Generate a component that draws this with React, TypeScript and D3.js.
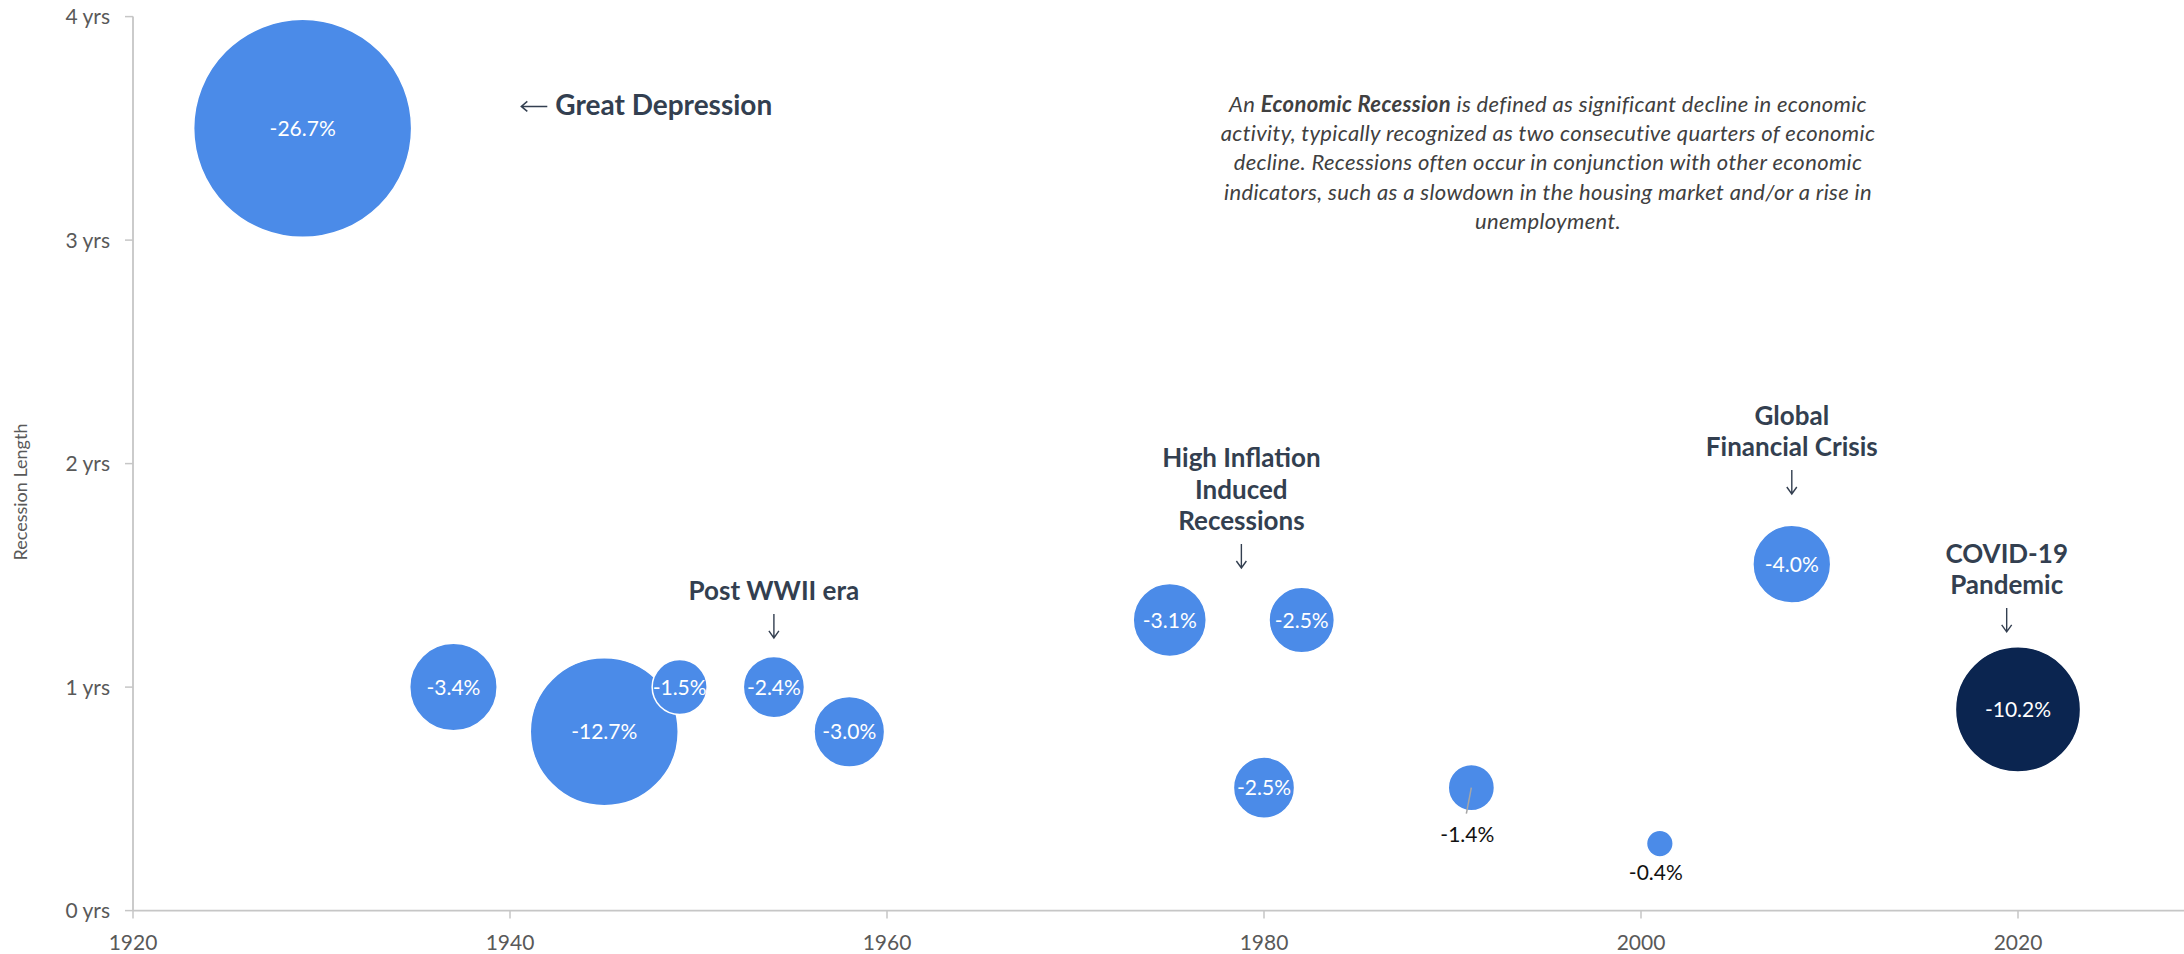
import React from "react";
import * as d3 from "d3";

// ---- data ----
const years = [1929, 1937, 1945, 1949, 1954, 1958, 1975, 1980, 1982, 1991, 2001, 2008, 2020];
const lengthsYrs = [3.5, 1.0, 0.8, 1.0, 1.0, 0.8, 1.3, 0.55, 1.3, 0.55, 0.3, 1.55, 0.9];
const gdpDecline = [-26.7, -3.4, -12.7, -1.5, -2.4, -3.0, -3.1, -2.5, -2.5, -1.4, -0.4, -4.0, -10.2];
const bubbleSizes = [26.7, 4.3, 12.3, 1.7, 2.1, 2.8, 3.0, 2.1, 2.4, 1.2, 0.4, 3.4, 8.8];
const highlighted = [false, false, false, false, false, false, false, false, false, false, false, false, true];
const labelBelow = [false, false, false, false, false, false, false, false, false, true, true, false, false];

const xTicks = [1920, 1940, 1960, 1980, 2000, 2020];
const yTicks = [0, 1, 2, 3, 4];
const yAxisTitle = "Recession Length";

const annotationLines = [
  ["Post WWII era"],
  ["High Inflation", "Induced", "Recessions"],
  ["Global", "Financial Crisis"],
  ["COVID-19", "Pandemic"],
];
const annotationYears = [1954, 1978.8, 2008, 2019.4];
const annotationTips = [1.22, 1.533, 1.864, 1.247];

const greatDepressionLabel = "Great Depression";
const greatDepressionAnchor = { year: 1940.6, value: 3.56 };

const descriptionLines = [
  ["An ", "Economic Recession", " is defined as significant decline in economic"],
  ["activity, typically recognized as two consecutive quarters of economic"],
  ["decline. Recessions often occur in conjunction with other economic"],
  ["indicators, such as a slowdown in the housing market and/or a rise in"],
  ["unemployment."],
];

const W = 2184;
const H = 954;
const BLUE = "#4b8be8";
const NAVY = "#0b2550";
const ANNO = "#333f50";
const AXIS = "#c6c6c6";
const TICKTXT = "#595959";
const FONT = "Lato, 'Open Sans', sans-serif";

export default function App() {
  const x = d3.scaleLinear().domain([1920, 2030]).range([133, 2206.5]);
  const y = d3.scaleLinear().domain([0, 4]).range([910.6, 16.6]);
  const r = d3.scaleSqrt().domain([0, 26.7]).range([0, 109]);

  const pts = years.map((yr, i) => ({
    yr,
    len: lengthsYrs[i],
    dec: gdpDecline[i],
    size: bubbleSizes[i],
    hi: highlighted[i],
    below: labelBelow[i],
  }));

  const fmt = (v: number) => `${v.toFixed(1)}%`;

  return (
    <svg
      width={W}
      height={H}
      style={{ position: "absolute", left: 0, top: 0, background: "#fff" }}
      fontFamily={FONT}
    >
      {/* axes */}
      <line x1={x(1920)} x2={W} y1={y(0)} y2={y(0)} stroke={AXIS} strokeWidth={1.8} />
      <line x1={x(1920)} x2={x(1920)} y1={y(4)} y2={y(0)} stroke={AXIS} strokeWidth={1.8} />
      {xTicks.map((t) => (
        <g key={`xt${t}`}>
          <line x1={x(t)} x2={x(t)} y1={y(0)} y2={y(0) + 8} stroke={AXIS} strokeWidth={1.5} />
          <text x={x(t)} y={950} textAnchor="middle" fontSize={21} fill={TICKTXT}>
            {t}
          </text>
        </g>
      ))}
      {yTicks.map((t) => (
        <g key={`yt${t}`}>
          <line x1={x(1920) - 8} x2={x(1920)} y1={y(t)} y2={y(t)} stroke={AXIS} strokeWidth={1.5} />
          <text x={110} y={y(t) + 7.5} textAnchor="end" fontSize={21} fill={TICKTXT}>
            {`${t} yrs`}
          </text>
        </g>
      ))}
      <text
        transform={`translate(27,${492}) rotate(-90)`}
        textAnchor="middle"
        fontSize={18}
        fill={TICKTXT}
      >
        {yAxisTitle}
      </text>

      {/* bubbles */}
      {pts.map((p) => (
        <circle
          key={`c${p.yr}`}
          cx={x(p.yr)}
          cy={y(p.len)}
          r={r(p.size)}
          fill={p.hi ? NAVY : BLUE}
          stroke="#ffffff"
          strokeWidth={1.5}
        />
      ))}
      {pts.map((p) =>
        p.below ? (
          <g key={`l${p.yr}`}>
            {p.size > 1 && (
              <line
                x1={x(p.yr)}
                y1={y(p.len)}
                x2={x(p.yr) - 5}
                y2={y(p.len) + 26}
                stroke="#a6a6a6"
                strokeWidth={1.5}
              />
            )}
            <text
              x={x(p.yr) - 4}
              y={y(p.len) + (p.size > 1 ? 54 : 36)}
              textAnchor="middle"
              fontSize={21}
              fill="#111"
            >
              {fmt(p.dec)}
            </text>
          </g>
        ) : (
          <text
            key={`l${p.yr}`}
            x={x(p.yr)}
            y={y(p.len) + 7.5}
            textAnchor="middle"
            fontSize={21}
            fill="#ffffff"
          >
            {fmt(p.dec)}
          </text>
        )
      )}

      {/* Great Depression annotation */}
      {(() => {
        const ax = x(greatDepressionAnchor.year);
        const ay = y(greatDepressionAnchor.value);
        const my = ay - 8.5;
        return (
          <g>
            <path
              d={`M${ax + 26},${my} L${ax},${my} M${ax + 6},${my - 5} L${ax},${my} L${ax + 6},${my + 5}`}
              stroke={ANNO}
              strokeWidth={1.5}
              fill="none"
            />
            <text x={ax + 34} y={ay} fontSize={28} fontWeight={700} fill={ANNO}>
              {greatDepressionLabel}
            </text>
          </g>
        );
      })()}

      {/* other annotations */}
      {annotationLines.map((lines, i) => {
        const ax = x(annotationYears[i]);
        const tip = y(annotationTips[i]);
        const top = tip - 24;
        const lastBase = tip - 37.5;
        return (
          <g key={`a${i}`}>
            <path
              d={`M${ax},${top} L${ax},${tip} M${ax - 5},${tip - 7} L${ax},${tip} L${ax + 5},${tip - 7}`}
              stroke={ANNO}
              strokeWidth={1.4}
              fill="none"
            />
            {lines.map((ln, j) => (
              <text
                key={j}
                x={ax}
                y={lastBase - (lines.length - 1 - j) * 31.8}
                textAnchor="middle"
                fontSize={26}
                fontWeight={700}
                fill={ANNO}
              >
                {ln}
              </text>
            ))}
          </g>
        );
      })}

      {/* description */}
      {descriptionLines.map((parts, i) => (
        <text
          key={`d${i}`}
          x={1548}
          y={112 + i * 29.2}
          textAnchor="middle"
          fontSize={22}
          letterSpacing={0.35}
          fontStyle="italic"
          fill="#404040"
        >
          {parts.map((pt, k) => (
            <tspan key={k} fontWeight={parts.length > 1 && k === 1 ? 700 : 400}>
              {pt}
            </tspan>
          ))}
        </text>
      ))}
    </svg>
  );
}
